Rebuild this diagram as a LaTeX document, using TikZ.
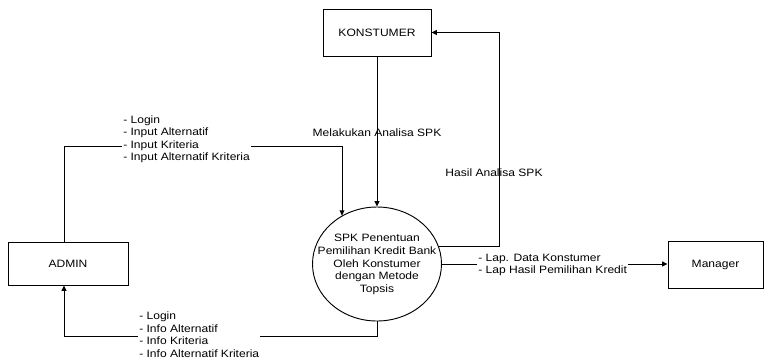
\documentclass[tikz,border=0pt]{standalone}
\usepackage{fontspec}
\setmainfont[FakeStretch=1.13]{Liberation Sans}
\usetikzlibrary{arrows.meta,shapes.geometric}
\tikzset{
  entity/.style={draw, line width=0.7pt, rectangle, inner sep=0pt},
  procshape/.style={draw, line width=0.7pt, ellipse, inner sep=0pt, minimum width=96.75pt, minimum height=85.5pt},
  flow/.style={draw, line width=0.7pt},
  arr/.style={flow, -{Triangle[length=4pt,width=3.6pt]}},
  flowlabel/.style={align=left, fill=white, inner sep=0.75pt, anchor=west},
  plainlabel/.style={inner sep=0pt}
}
\begin{document}
\begin{tikzpicture}[x=0.75pt,y=-0.75pt, font=\fontsize{8pt}{9.3pt}\selectfont]
\useasboundingbox (0,0) rectangle (764,358);
% entities
\node[entity, minimum width=81pt, minimum height=35.25pt] (konst) at (377,32.5) {KONSTUMER};
\node[entity, minimum width=90pt, minimum height=32.25pt] (admin) at (68,263.5) {ADMIN};
\node[entity, minimum width=71.25pt, minimum height=35.25pt] (manager) at (715.5,264.5) {Manager};
\node[procshape] (proc) at (377,264) {};
\node[align=center, font=\fontsize{8pt}{9.5pt}\selectfont] (proctext) at (377,264.5)
  {SPK Penentuan\\Pemilihan Kredit Bank\\Oleh Konstumer\\dengan Metode\\Topsis};
% helper coordinates
\coordinate (hr) at (499,0);
\coordinate (a1) at (64,146.7);
\coordinate (a2) at (342,146.7);
\coordinate (b1) at (64,336.7);
% flows
\draw[arr] (konst.south) -- (proc.north);
\node[plainlabel] (lmel) at (377,132.7) {Melakukan Analisa SPK};

\draw[arr] (proc.16) -- (proc.16 -| hr) -- (hr |- konst.east) -- (konst.east);
\node[plainlabel] (lhas) at (494,172.3) {Hasil Analisa SPK};

\draw[arr] (a1 |- admin.north) -- (a1) -- (a2) -- (a2 |- proc.126);
\node[flowlabel] (lin) at (122,139.4) {- Login\\- Input Alternatif\\- Input Kriteria\\- Input Alternatif Kriteria};

\draw[arr] (proc.south) -- (proc.south |- b1) -- (b1) -- (b1 |- admin.south);
\node[flowlabel] (lout) at (138,334.6) {- Login\\- Info Alternatif\\- Info Kriteria\\- Info Alternatif Kriteria};

\draw[arr] (proc.east) -- (proc.east -| manager.west);
\node[flowlabel] (lman) at (477,265) {- Lap. Data Konstumer\\- Lap Hasil Pemilihan Kredit};
\end{tikzpicture}
\end{document}
